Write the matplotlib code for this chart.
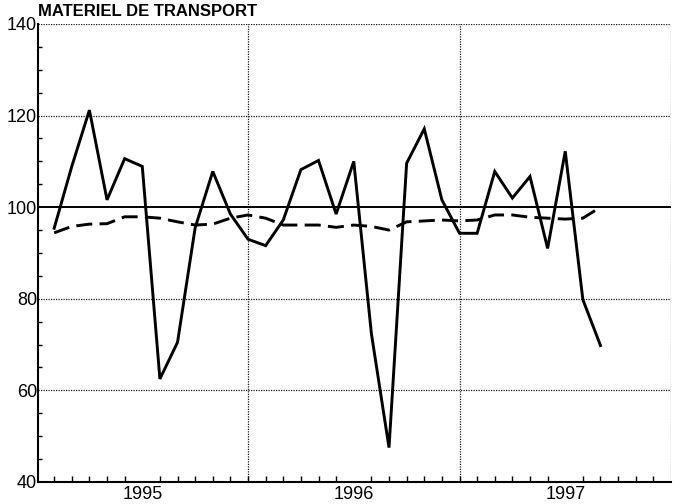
'''Materiel de transport - indice mensuel 1995-1997'''
import matplotlib
matplotlib.use('Agg')
import matplotlib.pyplot as plt
import numpy as np

TITLE = 'MATERIEL DE TRANSPORT'
YEARS = ['1995', '1996', '1997']

# monthly index, Jan 1995 .. Aug 1997
months = np.arange(1, 33)
actual = [95.4, 108.9, 121.2, 101.6, 110.6, 108.9, 62.5, 70.5, 95.5, 107.8, 98.5, 93.0,
          91.6, 97.2, 108.2, 110.2, 98.5, 110.0, 72.4, 47.5, 109.6, 117.1, 101.6, 94.3,
          94.3, 107.8, 102.0, 106.7, 91.0, 112.2, 79.8, 69.8]
trend = [94.4, 95.8, 96.3, 96.4, 97.9, 97.9, 97.6, 96.8, 96.1, 96.3, 97.6, 98.3,
         97.6, 96.1, 96.1, 96.1, 95.6, 96.1, 95.8, 95.0, 96.8, 97.0, 97.2, 97.0,
         97.2, 98.3, 98.3, 97.8, 97.6, 97.4, 97.6, 100.0]

plt.rcParams['font.family'] = ['Liberation Sans', 'DejaVu Sans']

fig = plt.figure(figsize=(6.81, 5.04), dpi=100)
ax = fig.add_axes([0.0565, 0.0437, 0.9288, 0.9087])

ax.set_xlim(0.11, 36)
ax.set_ylim(40, 140)

# dotted grid, incl. top and right edge
grid_kw = dict(color='0.1', lw=0.9, ls=(0, (1, 1)), zorder=1)
for y in [60, 80, 120, 140]:
    ax.axhline(y, **grid_kw)
for x in [12, 24, 36]:
    ax.axvline(x, **grid_kw)
ax.axhline(100, color='black', lw=1.4, zorder=2)

ax.plot(months, trend, color='black', lw=2.1, dashes=(5.5, 2.5), zorder=3)
ax.plot(months, actual, color='black', lw=2.1, solid_joinstyle='miter', zorder=4)

for s in ['top', 'right']:
    ax.spines[s].set_visible(False)
ax.spines['left'].set_linewidth(1.5)
ax.spines['bottom'].set_linewidth(1.5)

ax.set_yticks(np.arange(40, 141, 20))
ax.set_yticks(np.arange(40, 141, 5), minor=True)
ax.set_xticks([6, 18, 30])
ax.set_xticklabels(YEARS)
ax.set_xticks(np.arange(1, 36), minor=True)
ax.tick_params(axis='y', which='major', length=0, pad=1, labelsize=13)
ax.tick_params(axis='y', which='minor', direction='in', length=3, width=1)
ax.tick_params(axis='x', which='major', length=0, pad=3, labelsize=13)
ax.tick_params(axis='x', which='minor', direction='in', length=4, width=1)

ax.text(0.11, 141, TITLE, fontsize=12, fontweight='bold', ha='left', va='bottom')

fig.savefig('out.png', dpi=100)
